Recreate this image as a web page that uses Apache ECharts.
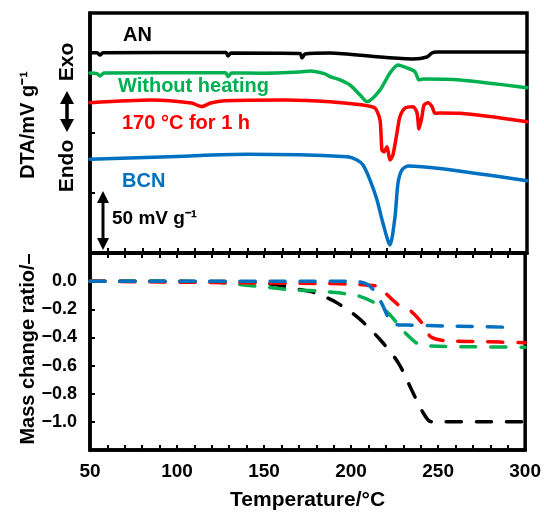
<!DOCTYPE html>
<html><head><meta charset="utf-8">
<script src="https://cdn.jsdelivr.net/npm/echarts@6/dist/echarts.min.js"></script>
<style>html,body{margin:0;padding:0;background:#fff}#c{width:544px;height:516px}</style>
</head><body><div id="c"></div>
<script>
// ---- data (temperature °C, value) ----
// DTA curves (mV g^-1, vertically offset as in figure)
const dtaAN = [[50,166.9],[54,166.9],[55.7,165],[57.4,166.9],[127.8,167.1],[128.9,164.2],[130.7,166.7],[170.1,166.3],[171.3,162.5],[173,165.8],[187.3,166.7],[215.9,163.3],[234.8,161.7],[242.8,163.3],[245.6,166.7],[248.5,167.5],[300,167.5]];
const dtaWithout = [[50,150],[54,149.5],[55.7,147.5],[58,150],[127.5,150.3],[129,147],[131,150],[147.3,149.8],[170,150.8],[176,151.7],[184,149.5],[187.3,147],[193,144.2],[198.7,140],[204.5,131.7],[208.5,126.1],[215.9,135.8],[221.6,150],[226.2,156.7],[231.3,154.2],[235.9,151.1],[238.2,144.2],[240.5,145],[261.7,144.2],[300,137.75]];
const dta170 = [[50,125.3],[85,127.5],[108,125],[114,122],[119,125],[127,126.9],[162,127.5],[187.3,126.1],[206.2,123.3],[213,120.8],[215.9,110.8],[217,85.8],[218.2,84.2],[219.9,88.6],[221.6,77.5],[223.3,81.7],[225.6,100],[227.3,113.6],[230.2,120.8],[234.8,121.9],[237.1,116.7],[238.2,103.3],[239.9,113.6],[241.1,123.3],[243.4,125.3],[245.7,121.9],[247.4,116.4],[250.2,116.7],[261.7,116.4],[300,109.4]];
const dtaBCN = [[50,78.1],[100,80.5],[139.8,82.25],[197,80.25],[202.7,77.5],[206.2,73.3],[210.2,60.8],[214.2,44.2],[217.6,24.75],[221.6,6.7],[224.5,30.25],[226.2,58.3],[228.5,69.2],[231.9,72.5],[250.2,70.4],[300,60.25]];
// Mass change ratio
const massAN = [[50,0],[140,-0.005],[158.7,-0.03],[170,-0.059],[177.6,-0.076],[191.3,-0.15],[204.5,-0.265],[217,-0.42],[227.3,-0.584],[234.8,-0.773],[241.6,-0.94],[245.7,-0.998],[250,-1.0],[300,-1.0]];
const massWithout = [[50,0],[120,-0.005],[130,-0.017],[149,-0.04],[168.4,-0.064],[183.3,-0.069],[187.3,-0.076],[197,-0.09],[204.5,-0.106],[214.2,-0.158],[221.6,-0.23],[227.3,-0.312],[231.3,-0.37],[238.8,-0.449],[246.2,-0.461],[265.7,-0.466],[300,-0.47]];
const mass170 = [[50,0],[120,-0.01],[185.6,-0.017],[202.7,-0.023],[208.5,-0.028],[215.9,-0.04],[219.9,-0.087],[227.3,-0.17],[234.8,-0.218],[241.6,-0.312],[245.7,-0.395],[254.2,-0.423],[274.8,-0.43],[300,-0.437]];
const massBCN = [[50,0],[200,0],[208.5,-0.017],[213,-0.064],[217.6,-0.158],[221.6,-0.265],[224.5,-0.307],[233.1,-0.312],[256,-0.319],[292,-0.328]];
// tick labels
const xTickLabels = [50,100,150,200,250,300];
const yTickLabels = [0.0,-0.2,-0.4,-0.6,-0.8,-1.0];
const seriesNames = ['AN','Without heating','170 °C for 1 h','BCN'];
const colors = ['#000000','#00b050','#ff0000','#0070c0'];

const FONT = 'Liberation Sans, Arial, sans-serif';
const chart = echarts.init(document.getElementById('c'), null, {renderer:'canvas'});
const axisLineStyle = {show:true, onZero:false, lineStyle:{color:'#000', width:3.5}};
const tickStyle = {show:true, inside:true, length:5, lineStyle:{color:'#000', width:2}};

function dtaSeries(name, data, color){
  return {name, type:'line', xAxisIndex:0, yAxisIndex:0, data, smooth:0.25, showSymbol:false,
    lineStyle:{color, width:3.5, cap:'round', join:'round'}, z:3, animation:false};
}
function massSeries(name, data, color){
  return {name, type:'line', xAxisIndex:1, yAxisIndex:1, data, smooth:0.3, showSymbol:false,
    lineStyle:{color, width:3.5, type:[15,15], cap:'round'}, z:3, animation:false};
}
function rotText(x,y,text,size,weight,color){
  return {type:'text', x, y, rotation:Math.PI/2, z:10,
    style:{text, fontSize:size, fontWeight:weight, fontFamily:FONT, fill:color||'#000', align:'center', verticalAlign:'middle'}};
}
function txt(x,y,text,color,size){
  return {type:'text', x, y, z:10, style:{text, fontSize:size||20, fontWeight:'bold', fontFamily:FONT, fill:color, align:'left', verticalAlign:'middle'}};
}

const option = {
  animation:false,
  grid:[
    {left:90, top:13, width:437, height:240, show:true, borderColor:'#000', borderWidth:3.5},
    {left:90, top:253, width:437, height:197, show:true, borderColor:'#000', borderWidth:3.5}
  ],
  xAxis:[
    {gridIndex:0, type:'value', min:50, max:300, interval:10, position:'bottom', axisLine:axisLineStyle, axisTick:tickStyle, axisLabel:{show:false}, splitLine:{show:false}},
    {gridIndex:1, type:'value', min:50, max:300, interval:10, position:'bottom', axisLine:axisLineStyle, axisTick:tickStyle,
      axisLabel:{show:true, margin:12, fontSize:19, fontWeight:'bold', fontFamily:FONT, color:'#000',
        formatter:v=> xTickLabels.includes(Math.round(v)) ? String(Math.round(v)) : ''},
      splitLine:{show:false},
      name:'Temperature/°C', nameLocation:'middle', nameGap:40, nameTextStyle:{fontSize:21, fontWeight:'bold', fontFamily:FONT, color:'#000'}},
    {gridIndex:1, type:'value', min:50, max:300, interval:10, position:'top', axisLine:axisLineStyle, axisTick:tickStyle, axisLabel:{show:false}, splitLine:{show:false}}
  ],
  yAxis:[
    {gridIndex:0, type:'value', min:0, max:200, interval:50, axisLine:axisLineStyle, axisTick:tickStyle, axisLabel:{show:false}, splitLine:{show:false}},
    {gridIndex:1, type:'value', min:-1.2, max:0.2, interval:0.2, axisLine:axisLineStyle, axisTick:tickStyle,
      axisLabel:{show:true, margin:13, fontSize:18, fontWeight:'bold', fontFamily:FONT, color:'#000',
        formatter:v=>{ const r=Math.round(v*10)/10; return yTickLabels.some(t=>Math.abs(t-r)<1e-6) ? r.toFixed(1).replace('-','−') : ''; }},
      splitLine:{show:false}}
  ],
  series:[
    dtaSeries(seriesNames[0], dtaAN, colors[0]),
    dtaSeries(seriesNames[1], dtaWithout, colors[1]),
    dtaSeries(seriesNames[2], dta170, colors[2]),
    dtaSeries(seriesNames[3], dtaBCN, colors[3]),
    massSeries(seriesNames[0], massAN, colors[0]),
    massSeries(seriesNames[1], massWithout, colors[1]),
    massSeries(seriesNames[2], mass170, colors[2]),
    massSeries(seriesNames[3], massBCN, colors[3])
  ],
  graphic:[
    txt(123,35,seriesNames[0],colors[0]),
    txt(118,86,seriesNames[1],colors[1]),
    txt(122,123,seriesNames[2],colors[2]),
    txt(122,181,seriesNames[3],colors[3]),
    txt(112,219,'50 mV g⁻¹','#000',19),
    // 50 mV scale arrow
    {type:'line', z:10, shape:{x1:103,y1:200,x2:103,y2:241}, style:{stroke:'#000', lineWidth:3}},
    {type:'polygon', z:10, shape:{points:[[103,191],[97,203],[109,203]]}, style:{fill:'#000'}},
    {type:'polygon', z:10, shape:{points:[[103,250],[97,238],[109,238]]}, style:{fill:'#000'}},
    // axis titles
    rotText(28,125,'DTA/mV g⁻¹',20,'bold'),
    rotText(28,349,'Mass change ratio/–',20,'bold'),
    rotText(67,62,'Exo',21,'bold'),
    rotText(67,166,'Endo',21,'bold'),
    {type:'line', z:10, shape:{x1:67,y1:100,x2:67,y2:123}, style:{stroke:'#000', lineWidth:3.5}},
    {type:'polygon', z:10, shape:{points:[[67,91],[60,104],[74,104]]}, style:{fill:'#000'}},
    {type:'polygon', z:10, shape:{points:[[67,132],[60,119],[74,119]]}, style:{fill:'#000'}}
  ]
};
chart.setOption(option);
</script></body></html>
